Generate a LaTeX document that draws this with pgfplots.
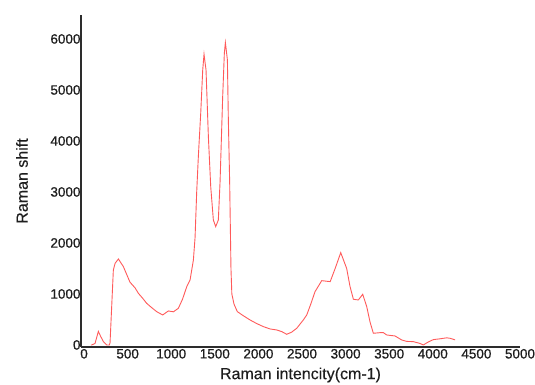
\documentclass[border=0pt]{standalone}
\usepackage{fontspec}
\setmainfont{Liberation Sans}
\newfontfamily\tickfont[FakeBold=0.7]{Liberation Sans}
\newfontfamily\labfont[FakeBold=0.3]{Liberation Sans}
\usepackage{pgfplots}
\pgfplotsset{compat=1.18}
\definecolor{txt}{RGB}{30,30,30}
\definecolor{axl}{RGB}{45,45,45}
\definecolor{ln}{RGB}{255,90,90}
\begin{document}
\begin{tikzpicture}
\useasboundingbox (-81bp,-38bp) rectangle (454bp,347bp);
\begin{axis}[
  anchor=south west, at={(0,0)},
  scale only axis, width=439bp, height=332bp,
  xmin=-35, xmax=5000, ymin=-40, ymax=6470,
  axis lines=left,
  axis line style={-, axl, line width=1.6bp},
  xtick={0,500,...,5000}, ytick={0,1000,...,6000},
  major tick length=0pt,
  tick label style={font=\tickfont\fontsize{13.5bp}{15bp}\selectfont, text=txt},
  /pgf/number format/assume math mode=true,
  scaled ticks=false,
  xticklabel style={/pgf/number format/set thousands separator={}, yshift=1.5bp},
  yticklabel style={/pgf/number format/set thousands separator={}, xshift=3bp},
  xlabel={Raman intencity(cm-1)},
  ylabel={Raman shift},
  label style={font=\labfont\fontsize{16bp}{18bp}\selectfont, text=txt},
  xlabel style={at={(axis description cs:0.5,0)}, anchor=center, yshift=-28bp},
  ylabel style={at={(axis description cs:0,0.5)}, anchor=center, rotate=0, yshift=59bp},
  clip=false,
]
\addplot[ln, line width=0.9bp] coordinates {
(77,0) (88,0) (126,30) (164,265) (190,170) (222,65) (260,0) (290,0) (298,40)
(317,750) (336,1470) (356,1600) (394,1686) (451,1536) (527,1230) (585,1120)
(623,1013) (670,920) (718,817) (770,740) (833,653) (902,588) (967,667) (1025,650)
(1082,720) (1130,900) (1178,1143) (1216,1275) (1254,1667) (1273,2100) (1292,3000)
(1311,3700) (1338,4540) (1361,5390) (1376,5700) (1399,5390) (1426,4080)
(1453,3100) (1483,2450) (1510,2320) (1540,2450) (1560,3200) (1590,4870)
(1609,5720) (1621,5930) (1644,5590) (1655,4410) (1670,3200) (1685,1500)
(1695,1000) (1720,800) (1758,653) (1830,570) (1904,490) (1980,420) (2056,360)
(2133,314) (2210,294) (2270,260) (2324,209) (2380,250) (2439,327) (2515,490)
(2554,588) (2600,800) (2649,1045) (2726,1261) (2780,1250) (2823,1242)
(2880,1500) (2944,1810) (3012,1500) (3050,1150) (3089,896) (3146,882)
(3196,994) (3242,752) (3280,450) (3318,229) (3394,241) (3433,241) (3471,196)
(3567,176) (3643,98) (3700,70) (3777,65) (3853,30) (3891,0) (3950,60)
(4006,105) (4080,120) (4159,140) (4200,130) (4255,100)
};
\end{axis}
\end{tikzpicture}
\end{document}
